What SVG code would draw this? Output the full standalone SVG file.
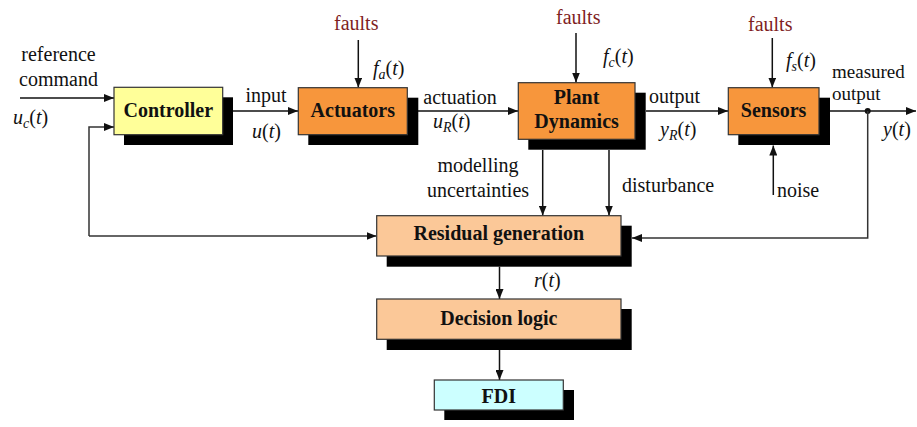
<svg xmlns="http://www.w3.org/2000/svg" width="917" height="427" viewBox="0 0 917 427" font-family="Liberation Serif, DejaVu Serif, serif">
<defs>
<style>
text{font-size:20px;fill:#111}
.b{font-weight:bold;text-anchor:middle}
.m{text-anchor:middle}
.f{fill:#7f1f1f}
.i{font-style:italic}
.sub{font-style:italic;font-size:14px}
.s19{font-size:19px}
.box{stroke:#333;stroke-width:1.2}
.sh{fill:#000}
.ln{fill:none;stroke:#111;stroke-width:1.5}
.fb{fill:none;stroke:#333;stroke-width:1.5}
</style>
<marker id="ah" viewBox="0 0 10 8" refX="10" refY="4" markerWidth="10" markerHeight="8" markerUnits="userSpaceOnUse" orient="auto">
<path d="M0,0 L10,4 L0,8 z" fill="#111"/>
</marker>
</defs>
<rect width="917" height="427" fill="#fff"/>

<g id="connectors">
<path class="ln" d="M20,98 H114" marker-end="url(#ah)"/>
<path class="fb" d="M89,236 V127 H114" marker-end="url(#ah)"/>
<path class="fb" d="M89,236 H376.5" marker-end="url(#ah)"/>
<path class="ln" d="M233,111 H298" marker-end="url(#ah)"/>
<path class="ln" d="M418,111 H518" marker-end="url(#ah)"/>
<path class="ln" d="M646,111 H728" marker-end="url(#ah)"/>
<path class="ln" d="M830,111 H916" marker-end="url(#ah)"/>
<circle cx="867.7" cy="111" r="3" fill="#111"/>
<path class="fb" d="M867.7,111 V238 H632" marker-end="url(#ah)"/>
<path class="ln" d="M358.3,40 V87.5" marker-end="url(#ah)"/>
<path class="ln" d="M576,33 V82.5" marker-end="url(#ah)"/>
<path class="ln" d="M772.3,38 V87.5" marker-end="url(#ah)"/>
<path class="ln" d="M773.3,195 V145.5" marker-end="url(#ah)"/>
<path class="ln" d="M542.7,150 V215.5" marker-end="url(#ah)"/>
<path class="ln" d="M609,150 V215.5" marker-end="url(#ah)"/>
<path class="ln" d="M499.5,266.7 V299" marker-end="url(#ah)"/>
<path class="ln" d="M499.5,350 V380" marker-end="url(#ah)"/>
</g>

<g id="controller">
<rect class="sh" x="124" y="97.3" width="109" height="47.7"/>
<rect class="box" x="114" y="87.3" width="108.7" height="47.4" fill="#ffff99"/>
<text class="b" x="168.3" y="117">Controller</text>
</g>

<g id="actuators">
<rect class="sh" x="308.3" y="97.7" width="110" height="47.3"/>
<rect class="box" x="298.3" y="87.7" width="109" height="47" fill="#f7963c"/>
<text class="b" x="352.8" y="117">Actuators</text>
</g>

<g id="plant">
<rect class="sh" x="528.3" y="92.7" width="117.4" height="57"/>
<rect class="box" x="518.3" y="82.7" width="116.7" height="56.6" fill="#f7963c"/>
<text class="b" x="576.6" y="104">Plant</text>
<text class="b" x="576.6" y="128">Dynamics</text>
</g>

<g id="sensors">
<rect class="sh" x="738.3" y="97.7" width="91.7" height="47.3"/>
<rect class="box" x="728.3" y="87.7" width="90.7" height="47" fill="#f7963c"/>
<text class="b" x="773.6" y="117">Sensors</text>
</g>

<g id="residual">
<rect class="sh" x="386.7" y="225.7" width="245" height="41"/>
<rect class="box" x="376.7" y="215.7" width="244.3" height="40.3" fill="#fbc898"/>
<text class="b" x="498.8" y="240">Residual generation</text>
</g>

<g id="decision">
<rect class="sh" x="386.7" y="309" width="245" height="41"/>
<rect class="box" x="376.7" y="299" width="244.3" height="40.3" fill="#fbc898"/>
<text class="b" x="498.8" y="325">Decision logic</text>
</g>

<g id="fdi">
<rect class="sh" x="444.3" y="390" width="129.7" height="30"/>
<rect class="box" x="434.3" y="380" width="129" height="30" fill="#ccffff"/>
<text class="b" x="498.8" y="403">FDI</text>
</g>

<g id="labels">
<text class="m" x="58.5" y="61">reference</text>
<text class="m" x="58.5" y="86">command</text>
<text x="13" y="124"><tspan class="i">u</tspan><tspan class="sub" dy="4">c</tspan><tspan dy="-4">(</tspan><tspan class="i">t</tspan>)</text>
<text class="m" x="266" y="102">input</text>
<text x="252" y="138"><tspan class="i">u</tspan>(<tspan class="i">t</tspan>)</text>
<text class="f" x="334" y="30">faults</text>
<text x="373" y="75"><tspan class="i">f</tspan><tspan class="sub" dy="4">a</tspan><tspan dy="-4">(</tspan><tspan class="i">t</tspan>)</text>
<text class="m" x="460" y="104">actuation</text>
<text x="433" y="128"><tspan class="i">u</tspan><tspan class="sub" dy="4">R</tspan><tspan dy="-4">(</tspan><tspan class="i">t</tspan>)</text>
<text class="f" x="556" y="24">faults</text>
<text x="603" y="63"><tspan class="i">f</tspan><tspan class="sub" dy="4">c</tspan><tspan dy="-4">(</tspan><tspan class="i">t</tspan>)</text>
<text x="649" y="103">output</text>
<text x="660" y="136"><tspan class="i">y</tspan><tspan class="sub" dy="4">R</tspan><tspan dy="-4">(</tspan><tspan class="i">t</tspan>)</text>
<text class="f" x="748" y="31">faults</text>
<text x="786" y="67"><tspan class="i">f</tspan><tspan class="sub" dy="4">s</tspan><tspan dy="-4">(</tspan><tspan class="i">t</tspan>)</text>
<text class="s19" x="832" y="78">measured</text>
<text class="s19" x="832" y="100">output</text>
<text x="883" y="136"><tspan class="i">y</tspan>(<tspan class="i">t</tspan>)</text>
<text class="m" x="478" y="172">modelling</text>
<text class="m" x="478" y="197">uncertainties</text>
<text x="622" y="192">disturbance</text>
<text x="777" y="197">noise</text>
<text x="534" y="287"><tspan class="i">r</tspan>(<tspan class="i">t</tspan>)</text>
</g>
</svg>
